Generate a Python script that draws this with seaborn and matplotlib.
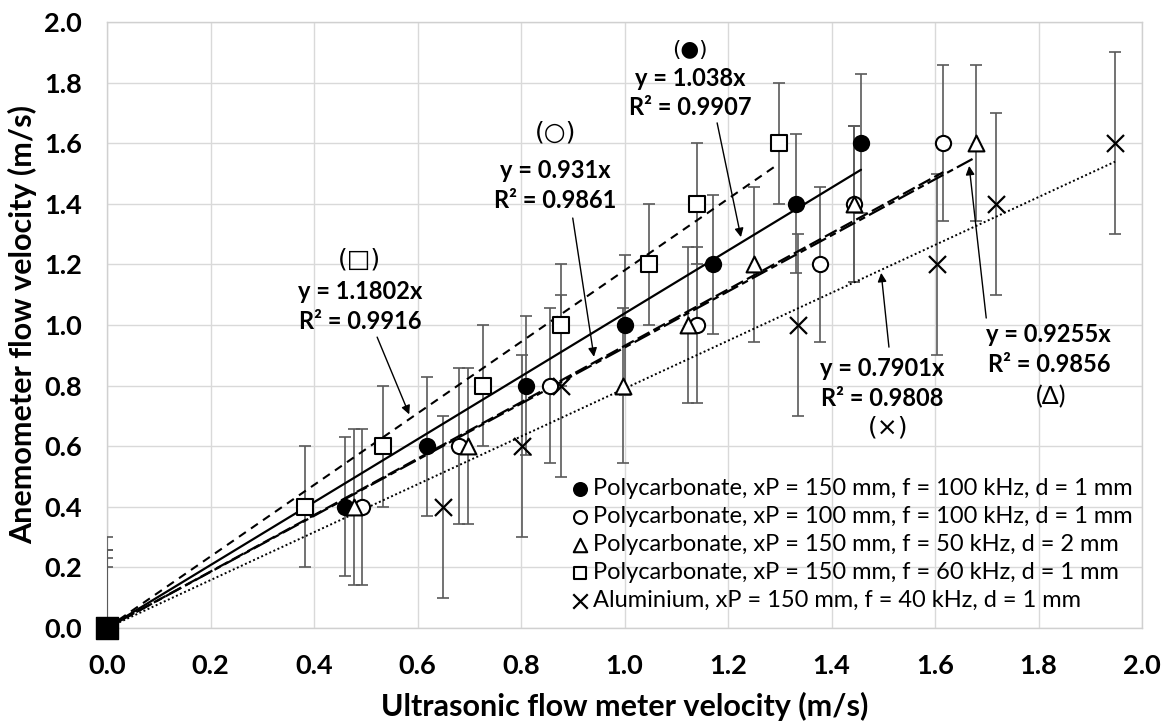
import matplotlib
matplotlib.use("Agg")
import matplotlib.pyplot as plt
import numpy as np
import pandas as pd
import seaborn as sns

# ---- measured velocities (m/s) ----
anemometer = [0.0, 0.4, 0.6, 0.8, 1.0, 1.2, 1.4, 1.6]

usm_pc150_100 = [0.0, 0.459, 0.619, 0.810, 1.000, 1.171, 1.331, 1.457]
usm_pc100_100 = [0.0, 0.493, 0.681, 0.857, 1.141, 1.378, 1.443, 1.616]
usm_pc150_50 = [0.0, 0.478, 0.698, 0.998, 1.123, 1.251, 1.444, 1.679]
usm_pc150_60 = [0.0, 0.383, 0.533, 0.726, 0.878, 1.047, 1.141, 1.298]
usm_al150_40 = [0.0, 0.650, 0.801, 0.878, 1.336, 1.603, 1.718, 1.948]

# anemometer uncertainty per configuration (m/s)
err_pc150_100 = 0.23
err_pc100_100 = 0.257
err_pc150_50 = 0.257
err_pc150_60 = 0.20
err_al150_40 = 0.30

labels = [
    "Polycarbonate, xP = 150 mm, f = 100 kHz, d = 1 mm",
    "Polycarbonate, xP = 100 mm, f = 100 kHz, d = 1 mm",
    "Polycarbonate, xP = 150 mm, f = 50 kHz, d = 2 mm",
    "Polycarbonate, xP = 150 mm, f = 60 kHz, d = 1 mm",
    "Aluminium, xP = 150 mm, f = 40 kHz, d = 1 mm",
]

# linear fits through the origin
slopes = [1.038, 0.931, 0.9255, 1.1802, 0.7901]
r2 = [0.9907, 0.9861, 0.9856, 0.9916, 0.9808]

series_x = [usm_pc150_100, usm_pc100_100, usm_pc150_50, usm_pc150_60, usm_al150_40]
series_err = [err_pc150_100, err_pc100_100, err_pc150_50, err_pc150_60, err_al150_40]

markers = ["o", "o", "^", "s", "x"]
faces = ["black", "white", "white", "white", "black"]
sizes = [120, 120, 130, 120, 150]
line_styles = ["-", (0, (6, 2)), (0, (8, 2, 3, 2)), (0, (4, 3)), (0, (1, 1.3))]
line_widths = [1.6, 1.6, 1.6, 1.5, 1.4]

rows = []
for lab, xs, e in zip(labels, series_x, series_err):
    for xv, yv in zip(xs, anemometer):
        rows.append({"series": lab, "usm": xv, "anem": yv, "err": e})
df = pd.DataFrame(rows)

sns.set_theme(style="whitegrid")
plt.rcParams["font.family"] = ["Lato", "DejaVu Sans"]

W, H = 1165, 722
fig = plt.figure(figsize=(W / 100, H / 100), dpi=100)
ax = fig.add_axes([107 / W, 1 - 628 / H, (1142 - 107) / W, (628 - 22) / H])
ax.set_facecolor("white")

# error bars
for lab, e in zip(labels, series_err):
    d = df[df["series"] == lab]
    ax.errorbar(d["usm"], d["anem"], yerr=d["err"], fmt="none",
                ecolor="#5a5a5a", elinewidth=1.2, capsize=4, capthick=1.2,
                zorder=3)

# trendlines y = a x up to the largest measured velocity
for lab, a, ls, lw in zip(labels, slopes, line_styles, line_widths):
    d = df[df["series"] == lab]
    xt = np.array([0.0, d["usm"].max()])
    ax.plot(xt, a * xt, color="black", linestyle=ls, linewidth=lw, zorder=4)

# markers
for lab, m, fc, s in zip(labels, markers, faces, sizes):
    d = df[df["series"] == lab]
    if m == "x":
        sns.scatterplot(x=d["usm"], y=d["anem"], marker=m, s=s, color="black",
                        edgecolor="black", linewidth=1.6, label=lab, ax=ax,
                        zorder=5, clip_on=False)
    else:
        sns.scatterplot(x=d["usm"], y=d["anem"], marker=m, s=s, color=fc,
                        edgecolor="black", linewidth=1.5, label=lab, ax=ax,
                        zorder=5, clip_on=False)

# shared origin point drawn as a solid square
d0 = df[(df["series"] == labels[3]) & (df["usm"] == 0)]
ax.scatter(d0["usm"], d0["anem"], marker="s", s=260, color="black",
           edgecolor="black", zorder=6, clip_on=False)

ax.set_xlim(0, 2.0)
ax.set_ylim(0, 2.0)
ticks = np.arange(0, 2.01, 0.2)
ax.set_xticks(ticks)
ax.set_yticks(ticks)
ax.set_xticklabels([f"{v:.1f}" for v in ticks])
ax.set_yticklabels([f"{v:.1f}" for v in ticks])
ax.tick_params(axis="both", length=0, labelsize=19.5, colors="black")
ax.tick_params(axis="y", pad=18)
ax.tick_params(axis="x", pad=19)
for t in ax.get_xticklabels() + ax.get_yticklabels():
    t.set_fontweight("bold")

ax.grid(True, color="#d9d9d9", linewidth=1.0)
for sp in ax.spines.values():
    sp.set_color("#d0d0d0")
    sp.set_linewidth(1.0)

ax.set_xlabel("Ultrasonic flow meter velocity (m/s)", fontsize=22,
              fontweight="bold", color="black", va="center")
ax.set_ylabel("Anemometer flow velocity (m/s)", fontsize=22,
              fontweight="bold", color="black", va="center")
ax.xaxis.set_label_coords(0.5, -0.129)
ax.yaxis.set_label_coords(-0.082, 0.5)

# fit annotations: symbol, equation, R², arrow start / end
notes = [
    # series index, symbol pos, eq pos, r2 pos, arrow start, arrow end, symbol
    (3, (0.487, 1.215), (0.489, 1.109), (0.489, 1.010), (0.522, 0.960), (0.584, 0.705), "(\u25a1)"),
    (1, (0.866, 1.634), (0.866, 1.511), (0.866, 1.412), (0.900, 1.353), (0.941, 0.895), "(\u25cb)"),
    (0, (1.127, 1.908), (1.128, 1.815), (1.128, 1.719), (1.179, 1.667), (1.225, 1.290), "(\u25cf)"),
    (4, (1.509, 0.663), (1.498, 0.855), (1.498, 0.756), (1.511, 0.927), (1.496, 1.172), "(\u00d7)"),
    (2, (1.824, 0.762), (1.820, 0.967), (1.820, 0.868), (1.699, 1.023), (1.666, 1.525), "(\u0394)"),
]
for idx, p_sym, p_eq, p_r2, a0, a1, sym in notes:
    fam = ["Lato", "DejaVu Sans"] if sym == "(\u0394)" else ["DejaVu Sans"]
    fs = 15.5 if sym == "(\u25cf)" else 18
    ax.text(*p_sym, sym, ha="center", va="center", fontsize=fs,
            family=fam, color="black", zorder=7)
    ax.text(*p_eq, f"y = {slopes[idx]}x", ha="center", va="center",
            fontsize=17, fontweight="bold", color="black", zorder=7)
    ax.text(*p_r2, f"R\u00b2 = {r2[idx]:.4f}", ha="center", va="center",
            fontsize=17, fontweight="bold", color="black", zorder=7)
    ax.annotate("", xy=a1, xytext=a0,
                arrowprops=dict(arrowstyle="-|>", color="black", lw=1.0,
                                mutation_scale=13, shrinkA=0, shrinkB=0),
                zorder=7)

leg = ax.legend(loc="lower right", bbox_to_anchor=(1.0, 0.012), frameon=False,
                fontsize=17, handletextpad=0.1, labelspacing=0.3,
                borderaxespad=0, handlelength=0.9, markerscale=0.85)
for t in leg.get_texts():
    t.set_color("black")

fig.savefig("out.png", dpi=100, facecolor="white")
